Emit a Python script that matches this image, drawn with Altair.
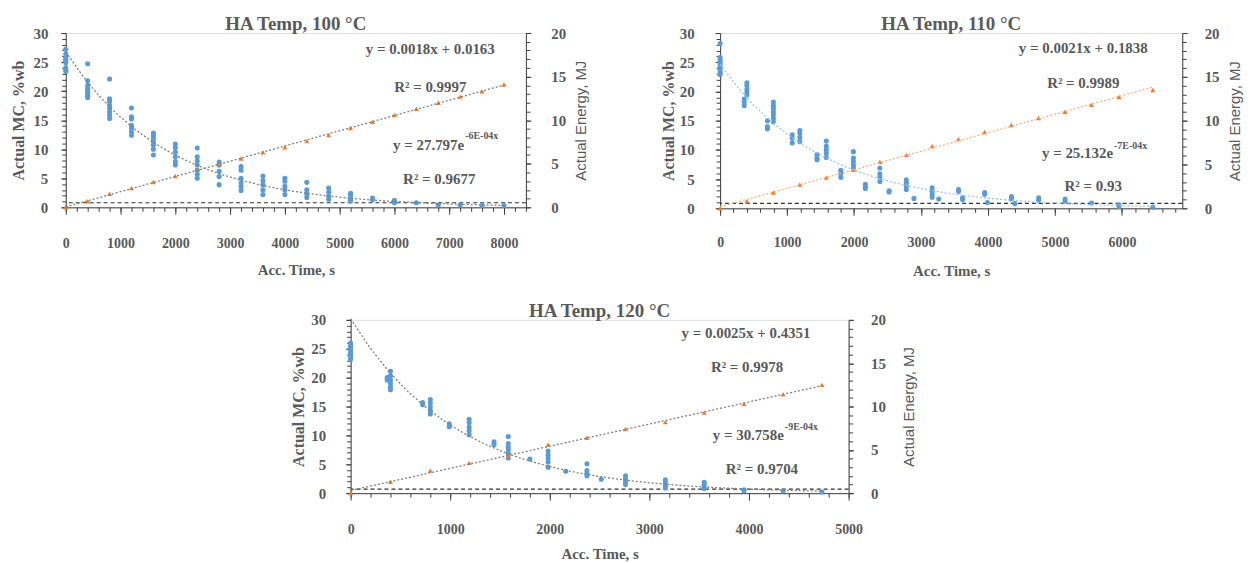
import altair as alt
import pandas as pd

BLUE = "#5B9BD5"
ORANGE = "#ED7D31"
TXT = "#595959"
AXC = "#404040"
SERIF = "Liberation Serif"
SANS = "Liberation Sans"

# ---------------- Panel 1: HA Temp 100 C ----------------
P1_MC_TIMES = [0, 400, 800, 1200, 1600, 2000, 2400, 2800, 3200, 3600, 4000, 4400,
               4800, 5200, 5600, 6000, 6400, 6800, 7200, 7600, 8000]
P1_MC_VALUES = [
    [27.2, 26.4, 25.8, 25.5, 25.2, 24.9, 24.0, 23.7, 23.4],
    [24.7, 21.8, 21.0, 20.5, 20.2, 19.8, 19.5, 19.2, 18.9],
    [22.1, 18.7, 18.3, 17.6, 17.0, 16.4, 15.9, 15.3],
    [17.1, 15.6, 15.2, 14.1, 13.6, 13.0, 12.4],
    [12.8, 12.4, 11.9, 11.3, 10.7, 10.0, 9.0],
    [10.9, 10.3, 9.5, 8.7, 7.9, 7.3],
    [10.2, 8.7, 8.0, 7.3, 6.4, 5.7, 5.0],
    [7.8, 7.3, 6.2, 5.3, 3.9],
    [7.0, 6.4, 5.0, 4.2, 3.6, 2.9],
    [5.4, 4.6, 3.9, 3.0, 2.2],
    [5.0, 4.5, 3.6, 3.0, 2.2],
    [4.3, 3.0, 2.3, 1.7],
    [3.3, 2.6, 1.9, 1.4],
    [2.4, 2.0, 1.4, 1.1],
    [1.6, 1.3],
    [1.2, 0.8],
    [0.8],
    [0.4],
    [0.4],
    [0.3],
    [0.3],
]
P1_EN_TIMES = [0, 400, 800, 1200, 1600, 2000, 2400, 2800, 3200, 3600, 4000, 4400,
               4800, 5200, 5600, 6000, 6400, 6800, 7200, 7600, 8000]
P1_EN_VALUES = [0.0, 0.7, 1.56, 2.2, 2.9, 3.6, 4.3, 5.0, 5.6, 6.3, 6.9, 7.6,
                8.3, 9.1, 9.8, 10.6, 11.3, 12.0, 12.7, 13.3, 14.1]

# ---------------- Panel 2: HA Temp 110 C ----------------
P2_MC_TIMES = [0, 360, 400, 706, 795, 1077, 1190, 1447, 1585, 1802, 1990, 2168,
               2385, 2523, 2780, 2894, 3166, 3264, 3560, 3620, 3950, 3990, 4350,
               4400, 4756, 5150, 5545, 5955, 6460]
P2_MC_VALUES = [
    [28.2, 25.8, 25.4, 25.0, 24.6, 24.2, 23.8, 23.3, 22.9],
    [18.7, 18.2, 17.6],
    [21.5, 21.0, 20.4, 19.9, 19.4],
    [15.0, 14.0, 13.6],
    [18.2, 17.6, 17.1, 16.5, 16.0, 15.4, 14.8],
    [12.6, 12.0, 11.2],
    [13.3, 12.8, 12.1, 11.4],
    [9.2, 8.6, 8.3],
    [11.5, 10.6, 10.0, 9.4, 8.7],
    [6.5, 5.9, 5.3],
    [9.7, 8.6, 8.0, 7.4, 6.9],
    [4.1, 3.7, 3.4],
    [6.9, 5.9, 5.3, 4.6],
    [3.0, 2.8],
    [4.9, 4.4, 3.8, 3.2],
    [1.7],
    [3.5, 2.9, 2.4, 1.9],
    [1.6],
    [3.2, 2.9],
    [1.8, 1.5],
    [2.7, 2.4],
    [1.0],
    [2.0, 1.6],
    [0.8],
    [1.8, 1.4],
    [1.6, 1.2],
    [0.9],
    [0.6, 0.3],
    [0.2],
]
P2_EN_TIMES = [0, 400, 795, 1190, 1585, 1990, 2385, 2780, 3166, 3560, 3950, 4350,
               4756, 5150, 5545, 5955, 6460]
P2_EN_VALUES = [0.0, 0.8, 1.8, 2.7, 3.5, 4.4, 5.3, 6.1, 7.1, 7.9, 8.7, 9.5,
                10.3, 11.0, 11.8, 12.7, 13.5]

# ---------------- Panel 3: HA Temp 120 C ----------------
P3_MC_TIMES = [0, 367, 400, 723, 800, 990, 1190, 1440, 1583, 1800, 1983, 2160,
               2373, 2517, 2760, 3160, 3550, 3950, 4343, 4733]
P3_MC_VALUES = [
    [26.0, 25.6, 25.2, 24.8, 24.4, 24.0, 23.6, 23.2],
    [20.0, 19.6],
    [21.1, 20.3, 19.6, 19.0, 18.4, 17.9],
    [15.7, 15.3],
    [16.2, 15.6, 14.9, 14.3, 13.7],
    [12.0, 11.5],
    [12.8, 12.2, 11.4, 10.8, 10.1],
    [8.9, 8.4],
    [9.8, 8.6, 8.0, 7.5, 6.9, 6.1],
    [5.9],
    [7.3, 6.6, 6.0, 5.4, 4.5],
    [3.8],
    [5.1, 3.9, 3.4, 3.0],
    [2.4],
    [3.0, 2.5, 2.0, 1.5],
    [2.3, 1.8, 1.3, 0.9],
    [1.9, 1.5, 1.1, 0.8],
    [0.6, 0.4],
    [0.4],
    [0.2],
]
P3_EN_TIMES = [0, 400, 800, 1190, 1583, 1983, 2373, 2760, 3160, 3550, 3950, 4343, 4733]
P3_EN_VALUES = [0.0, 1.3, 2.6, 3.5, 4.3, 5.6, 6.4, 7.4, 8.2, 9.3, 10.3, 11.4, 12.5]

# equilibrium (dashed) level, %wb
EMC_LEVELS = [0.8, 0.85, 0.7]

TITLES = ["HA Temp, 100 °C", "HA Temp, 110 °C", "HA Temp, 120 °C"]
LIN_EQ = ["y = 0.0018x + 0.0163", "y = 0.0021x + 0.1838", "y = 0.0025x + 0.4351"]
LIN_R2 = ["R² = 0.9997", "R² = 0.9989", "R² = 0.9978"]
EXP_BASE = ["y = 27.797e", "y = 25.132e", "y = 30.758e"]
EXP_SUP = ["-6E-04x", "-7E-04x", "-9E-04x"]
EXP_R2 = ["R² = 0.9677", "R² = 0.93", "R² = 0.9704"]


def axis_style(**kw):
    base = dict(grid=False, domainColor=AXC, tickColor=AXC, domainWidth=1,
                labelFont=SERIF, labelFontWeight="bold", labelColor=TXT,
                titleFont=SERIF, titleFontWeight="bold", titleColor=TXT,
                labelFlush=False, labelOverlap=False)
    base.update(kw)
    return alt.Axis(**base)


def panel(i, mc_t, mc_v, en_t, en_v, lay):
    mc_df = pd.DataFrame([{"t": t, "mc": v} for t, vals in zip(mc_t, mc_v) for v in vals])
    en_df = pd.DataFrame({"t": en_t, "en": en_v})
    xmax = lay["xmax"]
    xs = alt.Scale(domain=[0, xmax], nice=False, zero=False)
    yl = alt.Scale(domain=[0, 30], nice=False, zero=False)
    yr = alt.Scale(domain=[0, 20], nice=False, zero=False)
    major_x = list(range(0, lay["xlab_max"] + 1, 1000))
    minor_x = list(range(0, xmax + 1, 200))

    x_major_axis = axis_style(values=major_x, format="d", orient="bottom",
                              tickSize=7, labelFontSize=14, labelPadding=lay["xlp"],
                              title="Acc. Time, s", titleFontSize=15,
                              titlePadding=lay["xtp"])
    y_left_axis = axis_style(values=list(range(0, 31, 5)), orient="left", tickSize=5,
                             labelFontSize=15, labelPadding=lay["ylp"],
                             title="Actual MC, %wb", titleFontSize=16,
                             titlePadding=lay["ytp"])
    y_right_axis = axis_style(values=list(range(0, 21, 5)), orient="right", tickSize=5,
                              labelFontSize=15, labelPadding=lay["rlp"],
                              title="Actual Energy, MJ", titleFont=SANS,
                              titleFontWeight="normal", titleFontSize=15,
                              titleAngle=270, titleBaseline="top",
                              titlePadding=lay["rtp"])
    x_minor_axis = axis_style(values=minor_x, orient="bottom", tickSize=4, labels=False,
                              domain=False, title=None)
    y_left_minor = axis_style(values=list(range(0, 31, 1)), orient="left", tickSize=4,
                              labels=False, domain=False, title=None)
    y_right_minor = axis_style(values=list(range(0, 21, 1)), orient="right", tickSize=4,
                               labels=False, domain=False, title=None)

    trend_b = lay["trend_b"]
    trend_o = lay["trend_o"]

    emc = alt.Chart(pd.DataFrame({"v": [EMC_LEVELS[i]]})).mark_rule(
        color="#303030", strokeDash=[4, 3], strokeWidth=1.1
    ).encode(y=alt.Y("v:Q", scale=yl, axis=None))

    blue = alt.Chart(mc_df).mark_circle(size=26, color=BLUE, opacity=1).encode(
        x=alt.X("t:Q", scale=xs, axis=x_major_axis),
        y=alt.Y("mc:Q", scale=yl, axis=y_left_axis),
    )
    orange = alt.Chart(en_df).mark_point(
        shape="triangle-up", filled=True, size=26, color=ORANGE, opacity=1
    ).encode(
        x=alt.X("t:Q", scale=xs, axis=None),
        y=alt.Y("en:Q", scale=yr, axis=y_right_axis),
    )
    exp_trend = alt.Chart(mc_df).transform_calculate(
        ln="log(datum.mc)"
    ).transform_regression("t", "ln", method="poly", order=1).transform_calculate(
        fit="exp(datum.ln)"
    ).mark_line(color=trend_b, strokeDash=[2, 2], strokeWidth=1.3).encode(
        x=alt.X("t:Q", scale=xs, axis=None),
        y=alt.Y("fit:Q", scale=yl, axis=None),
    )
    lin_trend = alt.Chart(en_df).transform_regression("t", "en").mark_line(
        color=trend_o, strokeDash=[2, 2], strokeWidth=1.3
    ).encode(
        x=alt.X("t:Q", scale=xs, axis=None),
        y=alt.Y("en:Q", scale=yr, axis=None),
    )
    minor_l = alt.Chart(mc_df).mark_point(opacity=0).encode(
        x=alt.X("t:Q", scale=xs, axis=x_minor_axis),
        y=alt.Y("mc:Q", scale=yl, axis=y_left_minor),
    )
    minor_r = alt.Chart(en_df).mark_point(opacity=0).encode(
        x=alt.X("t:Q", scale=xs, axis=None),
        y=alt.Y("en:Q", scale=yr, axis=y_right_minor),
    )

    ann = lay["ann"]
    center_df = pd.DataFrame({
        "x": [ann["lin"][0], ann["r1"][0], ann["r2"][0]],
        "y": [ann["lin"][1], ann["r1"][1], ann["r2"][1]],
        "s": [LIN_EQ[i], LIN_R2[i], EXP_R2[i]],
    })
    txt_kw = dict(font=SERIF, fontWeight="bold", fontSize=15, color=TXT, baseline="middle")
    center_txt = alt.Chart(center_df).mark_text(align="center", **txt_kw).encode(
        x=alt.X("x:Q", scale=xs, axis=None), y=alt.Y("y:Q", scale=yl, axis=None), text="s:N")
    base_df = pd.DataFrame({"x": [ann["exp"][0]], "y": [ann["exp"][1]], "s": [EXP_BASE[i]]})
    base_txt = alt.Chart(base_df).mark_text(align="right", **txt_kw).encode(
        x=alt.X("x:Q", scale=xs, axis=None), y=alt.Y("y:Q", scale=yl, axis=None), text="s:N")
    sup_df = pd.DataFrame({"x": [ann["exp"][0]], "y": [ann["sup_y"]], "s": [EXP_SUP[i]]})
    sup_txt = alt.Chart(sup_df).mark_text(
        align="left", dx=1, font=SERIF, fontWeight="bold", fontSize=10, color=TXT,
        baseline="middle").encode(
        x=alt.X("x:Q", scale=xs, axis=None), y=alt.Y("y:Q", scale=yl, axis=None), text="s:N")

    ch = alt.layer(
        minor_l, minor_r, emc, blue, orange, exp_trend, lin_trend,
        center_txt, base_txt, sup_txt,
    ).resolve_scale(
        x="independent", y="independent"
    ).resolve_axis(
        x="independent", y="independent"
    ).properties(
        width=lay["w"], height=lay["h"],
        title=alt.TitleParams(text=TITLES[i], font=SERIF, fontSize=19, fontWeight="bold",
                              color=TXT, anchor="middle", frame="group", offset=lay["toff"]),
    )
    return ch


L1 = dict(xmax=8400, xlab_max=8000, w=462, h=175, xlp=22, xtp=12, ylp=13, ytp=6,
          rlp=20, rtp=8, toff=-8, trend_b="#7F7F7F", trend_o="#7F7F7F",
          ann=dict(lin=(6655, 27.3), r1=(6655, 20.7), exp=(7273, 10.8), sup_y=12.3,
                   r2=(6818, 4.8)))
L2 = dict(xmax=6900, xlab_max=6000, w=464, h=176, xlp=20, xtp=14, ylp=21, ytp=3,
          rlp=17, rtp=8, toff=-8, trend_b="#9DC3E6", trend_o="#F4B183",
          ann=dict(lin=(5422, 27.4), r1=(5422, 21.5), exp=(5867, 9.4), sup_y=10.7,
                   r2=(5570, 3.9)))
L3 = dict(xmax=5000, xlab_max=5000, w=500, h=174, xlp=23, xtp=10, ylp=20, ytp=4,
          rlp=17, rtp=16, toff=-8, trend_b="#7F7F7F", trend_o="#7F7F7F",
          ann=dict(lin=(3970, 27.8), r1=(3980, 21.9), exp=(4350, 10.0), sup_y=11.4,
                   r2=(4130, 4.1)))

p1 = panel(0, P1_MC_TIMES, P1_MC_VALUES, P1_EN_TIMES, P1_EN_VALUES, L1)
p2 = panel(1, P2_MC_TIMES, P2_MC_VALUES, P2_EN_TIMES, P2_EN_VALUES, L2)
p3 = panel(2, P3_MC_TIMES, P3_MC_VALUES, P3_EN_TIMES, P3_EN_VALUES, L3)

spacer = alt.Chart(pd.DataFrame({"a": [0]})).mark_point(opacity=0).encode(
    x=alt.value(0), y=alt.value(0)
).properties(width=224, height=174,
             view=alt.ViewBackground(stroke="transparent", fill="transparent"))

top = alt.hconcat(p1, p2, spacing=70)
bottom = alt.hconcat(spacer, p3, spacing=0)
chart = alt.vconcat(top, bottom, spacing=22).properties(
    padding={"left": 2, "top": 5, "right": 2, "bottom": 2}
).configure_view(strokeWidth=0, stroke="transparent").configure(background="white")

chart.save("out.html", embed_options={"renderer": "svg", "actions": False})
